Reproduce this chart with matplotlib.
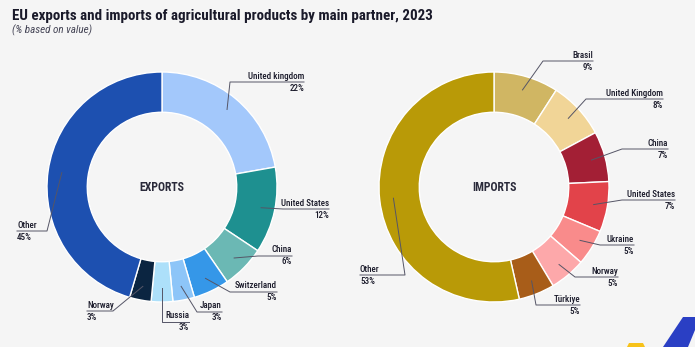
import matplotlib.pyplot as plt
from matplotlib.patches import Polygon
import numpy as np

plt.rcParams['font.family'] = ['Roboto Condensed', 'PT Sans Narrow', 'Fira Sans Condensed',
                               'Liberation Sans Narrow', 'DejaVu Sans']

W, H = 695, 347

exp_labels = ['United kingdom', 'United States', 'China', 'Switzerland',
              'Japan', 'Russia', 'Norway', 'Other']
exp_values = [22, 12, 6, 5, 3, 3, 3, 45]
exp_colors = ['#a3c8fb', '#1e9090', '#6bb8b4', '#3597e8',
              '#8dc5f8', '#ade0fa', '#0b2541', '#1d50b0']

imp_labels = ['Brasil', 'United Kingdom', 'China', 'United States',
              'Ukraine', 'Norway', 'Türkiye', 'Other']
imp_values = [9, 8, 7, 7, 5, 5, 5, 53]
imp_colors = ['#d0b663', '#f1d597', '#a31f35', '#e2434a',
              '#f98b8b', '#fda8aa', '#a85d19', '#b99a07']

# label layout in pixel coords: (x of text edge, y of underline, underline start x, align)
exp_layout = [(304, 82, 230, 'right'), (329, 209, 283, 'right'),
              (292, 256, 258, 'right'), (277, 292, 230, 'right'),
              (222, 312, 197, 'right'), (189, 322, 162, 'right'),
              (87, 311, 113, 'left'), (17, 231, 47, 'left')]
imp_layout = [(593, 61, 543, 'right'), (663, 99, 586, 'right'),
              (668, 149, 622, 'right'), (675, 200, 622, 'right'),
              (634, 245, 600, 'right'), (618, 277, 575, 'right'),
              (580, 305, 536, 'right'), (360, 275, 405, 'left')]

fig = plt.figure(figsize=(W / 100, H / 100), dpi=100)
fig.patch.set_facecolor('#f5f5f5')
ax = fig.add_axes([0, 0, 1, 1])


def Y(y):
    return H - y


def donut(center, values, colors, labels, layout, title):
    cx, cy = center
    r = 115
    wedges, _ = ax.pie(values, colors=colors, startangle=90, counterclock=False,
                       radius=r, center=(cx, Y(cy)),
                       wedgeprops=dict(width=r * 0.35, edgecolor='white', linewidth=1))
    ax.text(cx, Y(cy), title, ha='center', va='center', fontsize=8.5,
            fontweight='bold', color='#2a2a3a')
    for w, lab, v, (tx, ly, lx, al) in zip(wedges, labels, values, layout):
        ang = np.deg2rad((w.theta1 + w.theta2) / 2)
        px = cx + 0.88 * r * np.cos(ang)
        py = cy - 0.88 * r * np.sin(ang)
        ax.plot([px, lx, tx], [Y(py), Y(ly), Y(ly)], color='#555566', lw=0.7)
        ax.text(tx, Y(ly) + 1.5, lab, ha=al, va='bottom', fontsize=6.5,
                fontweight='medium', color='#1a1a2a')
        ax.text(tx, Y(ly) - 1.5, f'{v}%', ha=al, va='top', fontsize=6.5,
                fontweight='medium', color='#1a1a2a')


donut((162, 187), exp_values, exp_colors, exp_labels, exp_layout, 'EXPORTS')
donut((494, 187), imp_values, imp_colors, imp_labels, imp_layout, 'IMPORTS')

# corner logo shapes
ax.add_patch(Polygon([(683, Y(317)), (695, Y(317)), (695, Y(330)), (688, Y(347)), (663, Y(347))],
                     closed=True, color='#2a3fc4', lw=0))
ax.add_patch(Polygon([(629, Y(343)), (643, Y(343)), (645, Y(347)), (627, Y(347))],
                     closed=True, color='#f7c21a', lw=0))

fig.text(12 / W, 1 - 20 / H, 'EU exports and imports of agricultural products by main partner, 2023',
         fontsize=10.8, fontweight='bold', color='#1a1a2a', va='baseline')
fig.text(12 / W, 1 - 33 / H, '(% based on value)', fontsize=8, style='italic',
         color='#444455', va='baseline')

ax.set_xlim(0, W)
ax.set_ylim(0, H)
ax.set_aspect('auto')
ax.axis('off')

fig.savefig('out.png', dpi=100, facecolor=fig.get_facecolor())
